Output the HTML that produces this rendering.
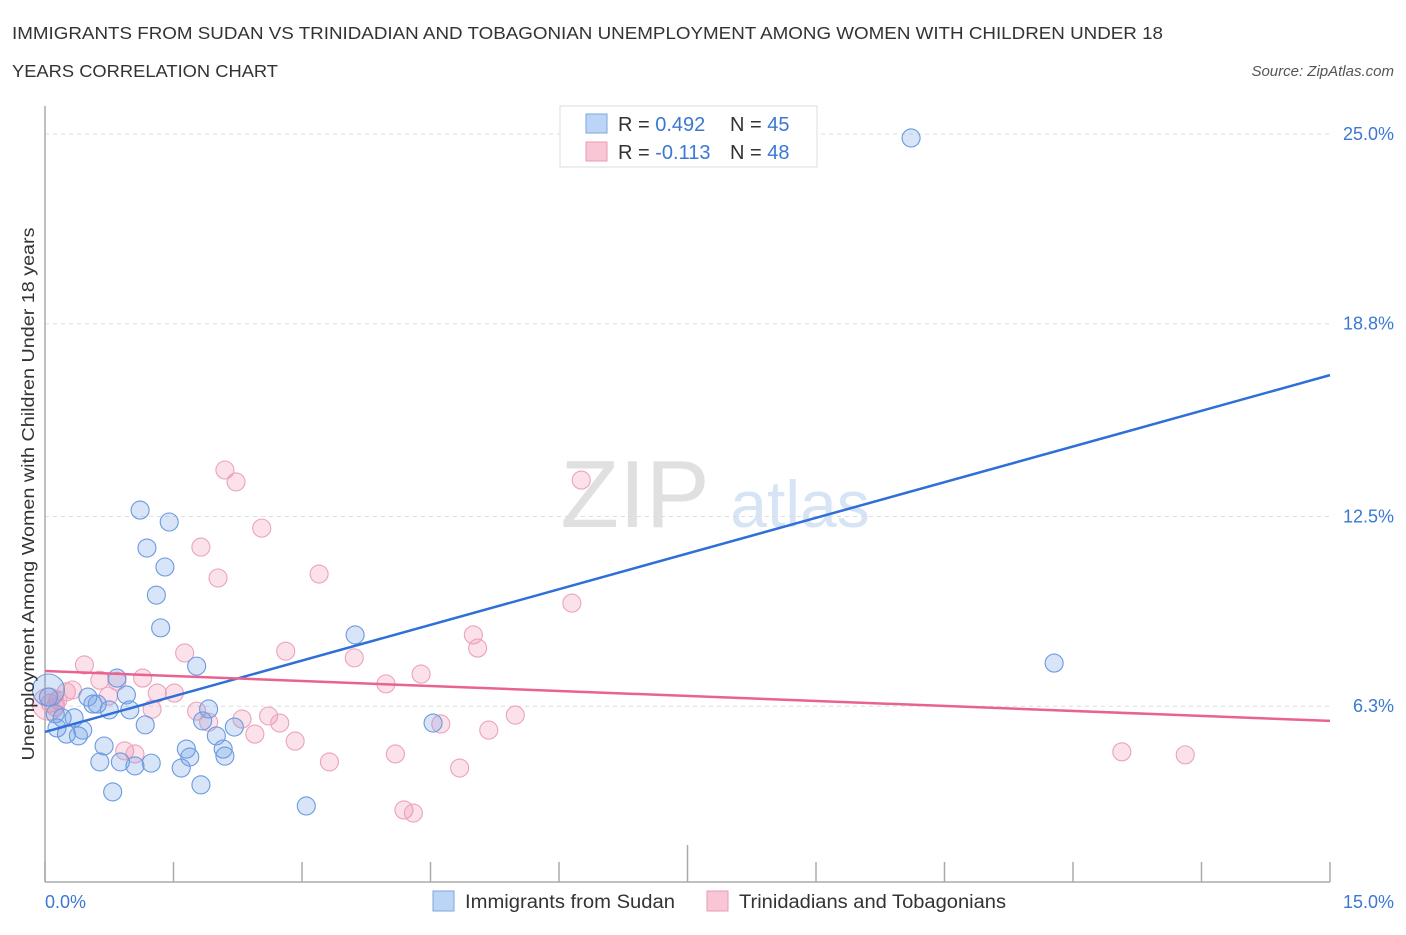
<!DOCTYPE html>
<html><head><meta charset="utf-8"><style>
body{margin:0;background:#fff;font-family:"Liberation Sans",sans-serif;}
svg text{font-family:"Liberation Sans",sans-serif;}
</style></head><body>
<svg id="chart" width="1406" height="930" xmlns="http://www.w3.org/2000/svg">
<text x="12" y="39" font-size="17.5" fill="#333" textLength="1151" lengthAdjust="spacingAndGlyphs">IMMIGRANTS FROM SUDAN VS TRINIDADIAN AND TOBAGONIAN UNEMPLOYMENT AMONG WOMEN WITH CHILDREN UNDER 18</text>
<text x="12" y="77" font-size="17.5" fill="#333" textLength="266" lengthAdjust="spacingAndGlyphs">YEARS CORRELATION CHART</text>
<text x="1394" y="76" font-size="15" fill="#555" font-style="italic" text-anchor="end">Source: ZipAtlas.com</text>
<text x="635" y="527" font-size="96" fill="#e0e0e0" text-anchor="middle" font-family="Liberation Serif,serif">ZIP</text>
<text x="800" y="527" font-size="66" fill="#d6e4f5" text-anchor="middle">atlas</text>
<g id="grid"></g><g id="axes"></g><g id="marks"></g>
<text transform="translate(34,494) rotate(-90)" font-size="17.5" fill="#333" text-anchor="middle" textLength="533" lengthAdjust="spacingAndGlyphs">Unemployment Among Women with Children Under 18 years</text>
<text x="45" y="908" font-size="18" fill="#3a78d4">0.0%</text>
<text x="1394" y="908" font-size="18" fill="#3a78d4" text-anchor="end">15.0%</text>
<g>
<rect x="560" y="106" width="257" height="61" fill="#fff" stroke="#ddd"/>
<rect x="586" y="114" width="21" height="19" fill="#bcd4f5" stroke="#7ea6e0"/>
<rect x="586" y="142" width="21" height="19" fill="#f9c6d5" stroke="#eb9ab4"/>
<text x="618" y="131" font-size="20" fill="#333">R = <tspan fill="#3a78d4">0.492</tspan></text>
<text x="730" y="131" font-size="20" fill="#333">N = <tspan fill="#3a78d4">45</tspan></text>
<text x="618" y="159" font-size="20" fill="#333">R = <tspan fill="#3a78d4">-0.113</tspan></text>
<text x="730" y="159" font-size="20" fill="#333">N = <tspan fill="#3a78d4">48</tspan></text>
</g>
<g>
<rect x="433" y="891" width="21" height="20" fill="#bcd4f5" stroke="#7ea6e0"/>
<text x="465" y="908" font-size="19" fill="#333" textLength="210" lengthAdjust="spacingAndGlyphs">Immigrants from Sudan</text>
<rect x="707" y="891" width="21" height="20" fill="#f9c6d5" stroke="#eb9ab4"/>
<text x="739" y="908" font-size="19" fill="#333" textLength="267" lengthAdjust="spacingAndGlyphs">Trinidadians and Tobagonians</text>
</g>
</svg>
<script>
const yTicks=[25.0,18.8,12.5,6.3];
const yTickLabels=["25.0%","18.8%","12.5%","6.3%"];
const xTicks=[0,1.5,3,4.5,6,7.5,9,10.5,12,13.5,15];
const sudanX=[10.11,11.78,1.11,1.45,1.19,1.40,1.30,1.35,3.62,1.77,0.84,0.95,0.50,0.56,0.61,0.75,0.99,1.91,1.84,1.17,2.21,4.53,0.12,0.20,0.34,0.14,0.25,0.39,0.44,0.04,0.69,1.65,2.00,2.08,2.10,0.64,0.88,1.05,1.24,1.59,1.69,0.79,1.82,3.05,0.04];
const sudanY=[24.87,7.71,12.71,12.32,11.47,10.85,9.93,8.86,8.63,7.61,7.22,6.67,6.60,6.37,6.37,6.18,6.18,6.21,5.82,5.69,5.62,5.75,6.05,5.92,5.92,5.59,5.39,5.33,5.52,6.60,5.00,4.90,5.33,4.90,4.67,4.48,4.48,4.35,4.44,4.28,4.64,3.50,3.73,3.04,6.83];
const trinX=[2.10,2.23,6.26,2.53,1.82,2.02,3.20,6.15,5.00,5.05,2.81,1.63,3.61,0.46,1.14,4.39,0.84,0.64,3.98,0.32,0.25,1.31,1.51,0.74,0.15,0.06,0.12,1.77,1.25,2.30,1.91,2.61,2.74,5.49,4.62,5.18,2.45,2.92,0.93,1.05,3.32,4.09,4.84,4.19,4.30,12.57,13.31,0.04];
const trinY=[14.02,13.63,13.69,12.12,11.50,10.49,10.62,9.67,8.63,8.20,8.10,8.04,7.88,7.65,7.22,7.35,7.12,7.15,7.03,6.83,6.77,6.73,6.73,6.63,6.50,6.40,6.27,6.14,6.20,5.88,5.78,5.98,5.75,6.01,5.72,5.52,5.39,5.16,4.84,4.74,4.48,4.74,4.28,2.91,2.81,4.81,4.71,6.37];
const sudanTrend=[5.46,17.12];
const trinTrend=[7.45,5.82];
const NS="http://www.w3.org/2000/svg";
const xs=v=>45+v*(1285/15);
const ys=v=>134+(25-v)*30.6;
function mk(tag,attrs,parent){const e=document.createElementNS(NS,tag);for(const k in attrs)e.setAttribute(k,attrs[k]);document.getElementById(parent).appendChild(e);return e;}
yTicks.forEach((t,i)=>{
  const l=mk('line',{x1:45,x2:1330,y1:ys(t),y2:ys(t),stroke:'#ddd','stroke-dasharray':'4,4'},'grid');
  
  
  const tx=mk('text',{x:1394,y:ys(t)+6,'font-size':18,fill:'#3a78d4','text-anchor':'end'},'grid');
  tx.textContent=yTickLabels[i];
  
  
});
const ya=mk('line',{x1:45,x2:45,y1:106,y2:882,stroke:'#aaa','stroke-width':1.5},'axes');


const xa=mk('line',{x1:45,x2:1330,y1:882,y2:882,stroke:'#aaa','stroke-width':1.5},'axes');


xTicks.forEach((t,i)=>{
  const tk=mk('line',{x1:xs(t),x2:xs(t),y1:(i==5?845:862),y2:882,stroke:'#aaa','stroke-width':1.5},'axes');
  
  
});
function dots(X,Y,fill,stroke,name){
  X.forEach((x,i)=>{
    const big=(x<0.08&&i==X.length-1);
    const c=mk('circle',{cx:xs(x),cy:ys(Y[i]),r:big?16:9,fill:fill,stroke:stroke,'stroke-width':1.1},'marks');
    
    
  });
}
dots(trinX,trinY,'rgba(240,140,170,0.25)','#eca2bb','trinidadian-point');
dots(sudanX,sudanY,'rgba(110,160,230,0.27)','#6a9ade','sudan-point');
const l1=mk('line',{x1:xs(0),y1:ys(sudanTrend[0]),x2:xs(15),y2:ys(sudanTrend[1]),stroke:'#2f6fd6','stroke-width':2.5},'marks');


const l2=mk('line',{x1:xs(0),y1:ys(trinTrend[0]),x2:xs(15),y2:ys(trinTrend[1]),stroke:'#e8638f','stroke-width':2.5},'marks');


</script>
</body></html>
